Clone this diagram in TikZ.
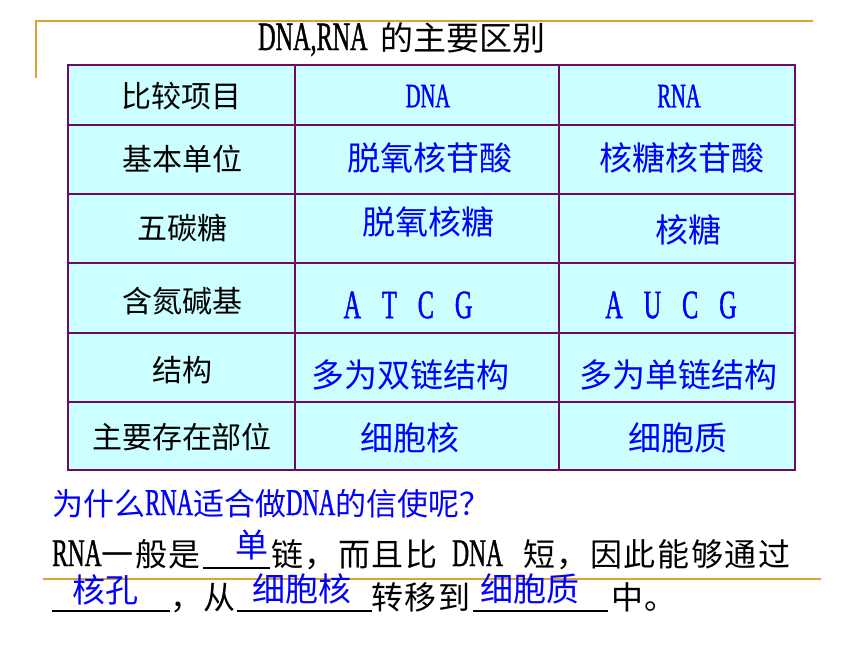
\documentclass[tikz,border=0pt]{standalone}
\usepackage{fontspec}
\setmainfont{Noto Sans CJK SC}
\newfontfamily\lat[FakeStretch=0.6,Scale=1.22,FakeBold=1]{Liberation Serif}
\newfontfamily\cjkls[LetterSpace=5]{Noto Sans CJK SC}
\definecolor{goldline}{RGB}{214,166,48}
\definecolor{cellfill}{RGB}{204,255,255}
\definecolor{gridcol}{RGB}{110,10,100}
\definecolor{txtblue}{RGB}{0,0,255}
\tikzset{
  goldrule/.style={draw=goldline, line width=1.8pt},
  gridline/.style={draw=gridcol, line width=2.6pt},
  ttl/.style={font=\fontsize{33}{40}\selectfont, text=black, inner sep=0pt},
  lbl/.style={font=\fontsize{30}{36}\selectfont, text=black, inner sep=0pt},
  hdr/.style={font=\fontsize{28}{34}\selectfont\lat, text=txtblue, inner sep=0pt},
  val/.style={font=\fontsize{33}{40}\selectfont, text=txtblue, inner sep=0pt},
  quest/.style={font=\fontsize{31}{38}\selectfont, text=txtblue, inner sep=0pt, anchor=base west},
  para/.style={font=\fontsize{32}{38}\selectfont\cjkls, text=black, inner sep=0pt, anchor=base west},
  fillin/.style={font=\fontsize{33}{40}\selectfont, text=txtblue, inner sep=0pt},
  blank/.style={draw=black, line width=1.1pt}
}
\begin{document}
\begin{tikzpicture}[x=1pt,y=-1pt]
\useasboundingbox (0,0) rectangle (860,645);
\fill[white] (0,0) rectangle (860,645);
% gold rules
\coordinate (g1) at (36,78);
\coordinate (g2) at (36,21);
\coordinate (g3) at (813,21);
\draw[goldrule] (g1) -- (g2) -- (g3);
\coordinate (g4) at (43,579);
\coordinate (g5) at (821,579);
\draw[goldrule] (g4) -- (g5);
% title
\node[ttl, anchor=base west] (title) at (258,50) {{\lat DNA,RNA}\hspace{13pt}的主要区别};
% table
\fill[cellfill] (68,65) rectangle (795,470);
\foreach \yy in {125,194,263,333,402} \draw[gridline] (68,\yy) -- (795,\yy);
\foreach \xx in {295,559} \draw[gridline] (\xx,65) -- (\xx,470);
\draw[gridline] (68,65) rectangle (795,470);
% row 1
\node[lbl] (h1) at (181,96) {比较项目};
\node[hdr] (h2) at (428,96) {DNA};
\node[hdr] (h3) at (679,96) {RNA};
% row 2
\node[lbl] (r2a) at (182,159) {基本单位};
\node[val] (r2b) at (430,158) {脱氧核苷酸};
\node[val] (r2c) at (682,158) {核糖核苷酸};
% row 3
\node[lbl] (r3a) at (182,228) {五碳糖};
\node[val] (r3b) at (428,222) {脱氧核糖};
\node[val] (r3c) at (688,230) {核糖};
% row 4
\node[lbl] (r4a) at (182,301) {含氮碱基};
\node[val] (r4b) at (408,305) {\lat A\hspace{21pt}T\hspace{21pt}C\hspace{21pt}G};
\node[val] (r4c) at (671,305) {\lat A\hspace{21pt}U\hspace{21pt}C\hspace{21pt}G};
% row 5
\node[lbl] (r5a) at (182,370) {结构};
\node[val] (r5b) at (410,375) {多为双链结构};
\node[val] (r5c) at (678,375) {多为单链结构};
% row 6
\node[lbl] (r6a) at (182,437) {主要存在部位};
\node[val] (r6b) at (410,438) {细胞核};
\node[val] (r6c) at (678,438) {细胞质};
% question
\node[quest] (q) at (52,515) {为什么{\lat RNA}适合做{\lat DNA}的信使呢？};
% line 2
\node[para] (p1) at (52,566) {{\lat RNA}一般是};
\coordinate (b1s) at (203,568);
\coordinate (b1e) at (270,568);
\draw[blank] (b1s) -- (b1e);
\node[fillin] (f1) at (252,545) {单};
\node[para] (p2) at (271,566) {链，而且比};
\node[para] (p3) at (452,566) {\lat DNA};
\node[para] (p4) at (523,566) {短，因此能够通过};
% line 3
\coordinate (b2s) at (52,611);
\coordinate (b2e) at (170,611);
\draw[blank] (b2s) -- (b2e);
\node[fillin] (f2) at (105,590) {核孔};
\node[para] (p5) at (170,609) {，从};
\coordinate (b3s) at (237,611);
\coordinate (b3e) at (372,611);
\draw[blank] (b3s) -- (b3e);
\node[fillin] (f3) at (302,589) {细胞核};
\node[para] (p6) at (371,609) {转移到};
\coordinate (b4s) at (473,611);
\coordinate (b4e) at (608,611);
\draw[blank] (b4s) -- (b4e);
\node[fillin] (f4) at (530,589) {细胞质};
\node[para] (p7) at (611,609) {中。};
\end{tikzpicture}
\end{document}
